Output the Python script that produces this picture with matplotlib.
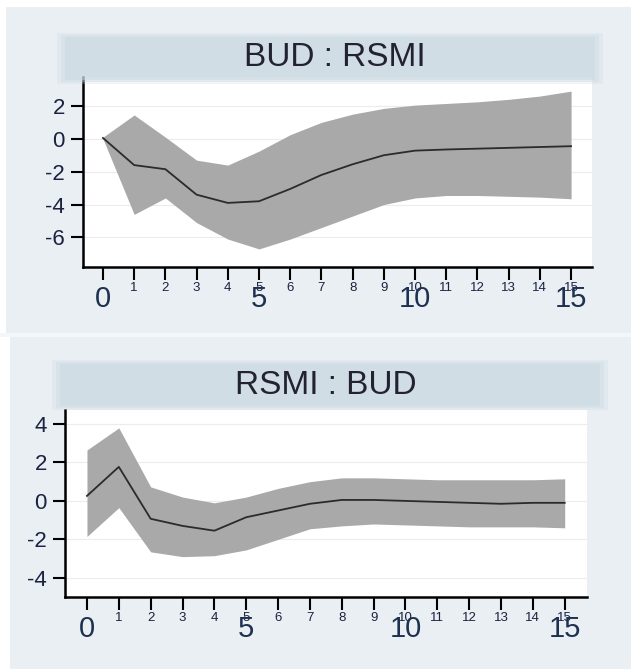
import matplotlib
matplotlib.use('Agg')
from matplotlib import pyplot as plt
from matplotlib.patches import Rectangle

plt.rcParams['font.family'] = ['Liberation Sans', 'DejaVu Sans']

# periods (steps) of the impulse response
steps = list(range(0, 16))

# BUD : RSMI
bud_rsmi_irf = [0.05, -1.6, -1.85, -3.4, -3.9, -3.8, -3.05, -2.2, -1.55, -1.0, -0.72, -0.65, -0.6, -0.55, -0.5, -0.45]
bud_rsmi_hi = [0.1, 1.45, 0.1, -1.3, -1.6, -0.75, 0.25, 1.0, 1.5, 1.85, 2.05, 2.15, 2.25, 2.4, 2.6, 2.9]
bud_rsmi_lo = [0.0, -4.6, -3.6, -5.1, -6.1, -6.7, -6.1, -5.4, -4.7, -4.0, -3.6, -3.45, -3.45, -3.5, -3.55, -3.65]

# RSMI : BUD
rsmi_bud_irf = [0.26, 1.77, -0.93, -1.3, -1.55, -0.85, -0.5, -0.15, 0.05, 0.05, 0.0, -0.05, -0.1, -0.15, -0.1, -0.1]
rsmi_bud_hi = [2.65, 3.8, 0.73, 0.2, -0.1, 0.2, 0.65, 1.0, 1.2, 1.2, 1.15, 1.1, 1.1, 1.1, 1.1, 1.15]
rsmi_bud_lo = [-1.85, -0.35, -2.65, -2.9, -2.85, -2.55, -2.0, -1.45, -1.3, -1.2, -1.25, -1.3, -1.35, -1.35, -1.35, -1.4]

big_ticks = [0, 5, 10, 15]

W, H = 631, 669
fig = plt.figure(figsize=(W / 100, H / 100), dpi=100)
fig.patch.set_facecolor('#e9eff3')

def px_rect(x0, y0, x1, y1, color, z=0, alpha=1.0):
    # rectangle in pixel coords (from top-left)
    fig.patches.append(Rectangle((x0 / W, 1 - y1 / H), (x1 - x0) / W, (y1 - y0) / H,
                                 transform=fig.transFigure, facecolor=color,
                                 edgecolor='none', zorder=z, alpha=alpha))

# scan margins
px_rect(0, 0, W, 7, 'white')
px_rect(0, 0, 6, 333, 'white')
px_rect(0, 333, 10, H, 'white')
px_rect(0, 333, W, 337, '#f4f7f9')

# soft title bands (a few stacked layers to blur the edges)
for d, a in [(8, 0.25), (4, 0.35), (0, 0.5)]:
    px_rect(65 - d, 37 - d / 2, 595 + d, 80 + d / 2, '#cad8e1', alpha=a)
    px_rect(60 - d, 364 - d / 2, 600 + d, 406 + d / 2, '#cad8e1', alpha=a)

fig.text(335 / W, 1 - 58 / H, 'BUD : RSMI', ha='center', va='center', fontsize=24, color='#222233')
fig.text(326 / W, 1 - 385 / H, 'RSMI : BUD', ha='center', va='center', fontsize=24, color='#222233')


def panel(rect, irf, lo, hi, xlim, ylim, yticks):
    l, t, r, b = rect
    ax = fig.add_axes([l / W, 1 - b / H, (r - l) / W, (b - t) / H])
    ax.set_facecolor('white')
    ax.fill_between(steps, lo, hi, color='#a9a9a9', linewidth=0)
    ax.plot(steps, irf, color='#2b2b2b', linewidth=1.3)
    ax.set_xlim(*xlim)
    ax.set_ylim(*ylim)
    ax.set_yticks(yticks)
    ax.set_yticklabels([str(v) for v in yticks])
    ax.yaxis.grid(True, color='#ececec', linewidth=0.8)
    ax.set_axisbelow(True)
    ax.set_xticks(steps)
    ax.set_xticklabels([''] + [str(s) for s in steps[1:]], fontsize=9.5, color='#1c2240')
    for s in ['top', 'right']:
        ax.spines[s].set_visible(False)
    for s in ['left', 'bottom']:
        ax.spines[s].set_linewidth(1.8)
    ax.tick_params(axis='both', direction='out', length=9, width=1.5)
    ax.tick_params(axis='x', pad=2)
    ax.tick_params(axis='y', labelsize=16, pad=4, labelcolor='#1c2240')
    for v in big_ticks:
        ax.annotate(str(v), xy=(v, 0), xycoords=('data', 'axes fraction'),
                    xytext=(0, -32 * 0.72), textcoords='offset points',
                    ha='center', va='center', fontsize=21, color='#1f3150')
    return ax


panel((83, 77, 592, 267), bud_rsmi_irf, bud_rsmi_lo, bud_rsmi_hi,
      (-0.64, 15.67), (-7.8, 3.76), [2, 0, -2, -4, -6])
panel((65, 410, 587, 597), rsmi_bud_irf, rsmi_bud_lo, rsmi_bud_hi,
      (-0.69, 15.7), (-5.0, 4.73), [4, 2, 0, -2, -4])

plt.savefig('out.png', dpi=100, facecolor=fig.get_facecolor())
